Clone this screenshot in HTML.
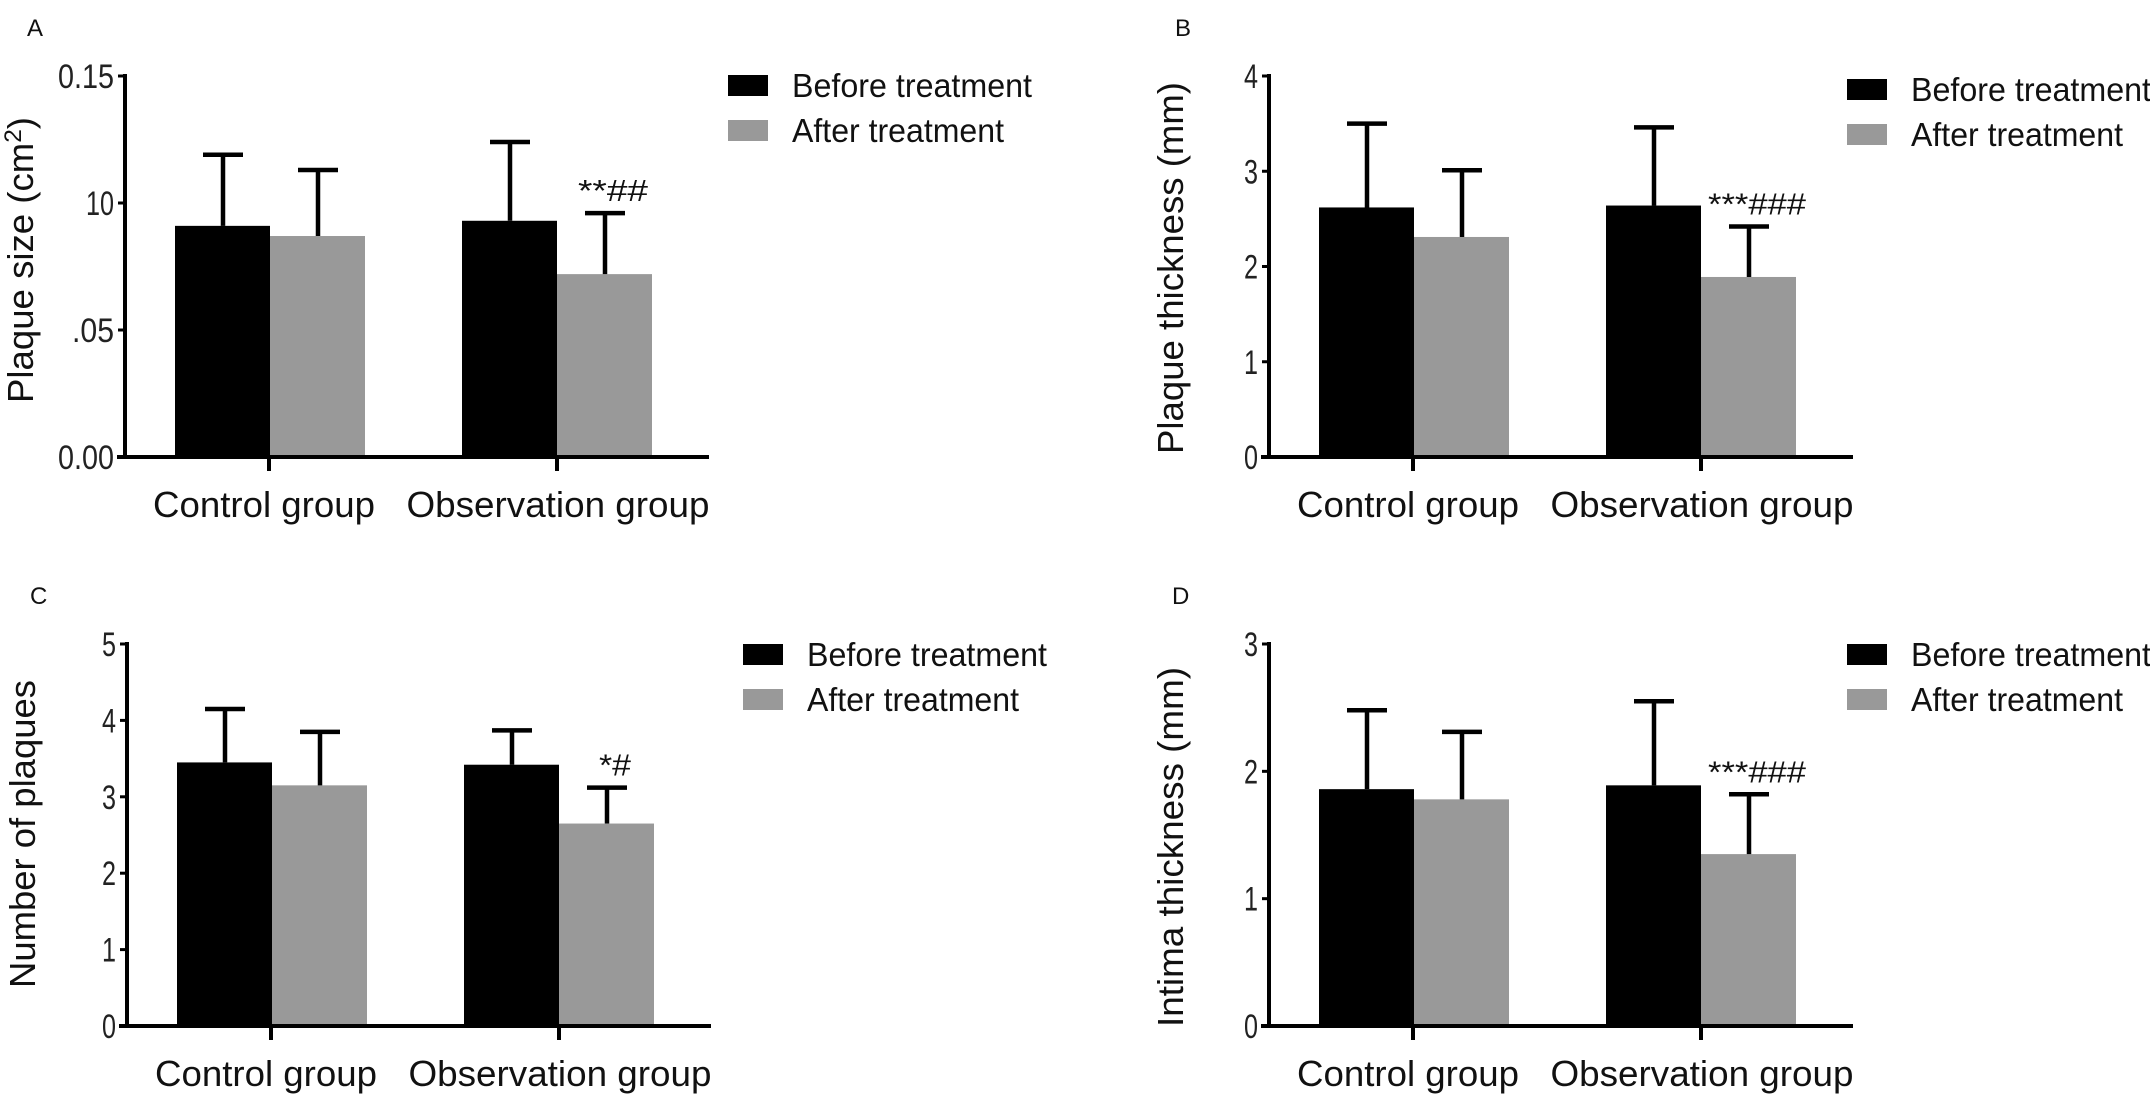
<!DOCTYPE html>
<html><head><meta charset="utf-8"><style>
html,body{margin:0;padding:0;background:#fff;}
svg{display:block;font-family:"Liberation Sans",Arial,sans-serif;}
</style></head><body>
<svg id="fig" width="2150" height="1100" viewBox="0 0 2150 1100"></svg>
<script>
const categories = ["Control group", "Observation group"];
const seriesNames = ["Before treatment", "After treatment"];
const aBefore = [0.091, 0.093], aAfter = [0.087, 0.072];
const aBeforeErr = [0.119, 0.124], aAfterErr = [0.113, 0.096];
const aTicks = [0, 0.05, 0.10, 0.15];
const aTickLabels = ["0.00", ".05", "10", "0.15"];
const bBefore = [2.62, 2.64], bAfter = [2.31, 1.89];
const bBeforeErr = [3.50, 3.46], bAfterErr = [3.01, 2.42];
const bTicks = [0, 1, 2, 3, 4];
const bTickLabels = ["0", "1", "2", "3", "4"];
const cBefore = [3.45, 3.42], cAfter = [3.15, 2.65];
const cBeforeErr = [4.15, 3.87], cAfterErr = [3.85, 3.12];
const cTicks = [0, 1, 2, 3, 4, 5];
const cTickLabels = ["0", "1", "2", "3", "4", "5"];
const dBefore = [1.86, 1.89], dAfter = [1.78, 1.35];
const dBeforeErr = [2.48, 2.55], dAfterErr = [2.31, 1.82];
const dTicks = [0, 1, 2, 3];
const dTickLabels = ["0", "1", "2", "3"];
const annotations = ["", "**##", "", "***###", "", "*#", "", "***###"];

const NS = "http://www.w3.org/2000/svg";
const svg = document.getElementById("fig");
function mk(tag, attrs, parent, text) {
  const e = document.createElementNS(NS, tag);
  for (const k in attrs) e.setAttribute(k, attrs[k]);
  if (text !== undefined) e.textContent = text;
  (parent || svg).appendChild(e);
  return e;
}

function panel(p) {
  const g = mk("g", {});
  
  
  const ymax = p.ticks[p.ticks.length - 1];
  const y = v => p.y0 - (v / ymax) * (p.y0 - p.yt);
  const ax = p.ax;
  const lt = mk("text", {x: p.lx, y: p.ly, "font-size": 24, fill: "#111"}, g, p.letter);
  
  
  const barOff = [[50, 337], [145, 432]];
  const vals = [p.before, p.after], errs = [p.beforeErr, p.afterErr];
  const cols = ["#000", "#999"];
  for (let gi = 0; gi < categories.length; gi++) {
    for (let s = 0; s < 2; s++) {
      const x = ax + barOff[s][gi];
      const r = mk("rect", {x: x, y: y(vals[s][gi]), width: 95, height: p.y0 - y(vals[s][gi]), fill: cols[s]}, g);
      
      
      const cx = x + 48;
      const e = mk("path", {d: `M${cx} ${y(vals[s][gi])}V${y(errs[s][gi])}M${cx-20} ${y(errs[s][gi])}H${cx+20}`, stroke: "#000", "stroke-width": 4.5, fill: "none"}, g);
      
      
    }
    const lab = mk("text", {x: ax + (gi ? 433 : 139), y: p.y0 + 60, "font-size": 36, fill: "#111", "text-anchor": "middle", textLength: gi ? 303 : 222, lengthAdjust: "spacingAndGlyphs"}, g, categories[gi]);
    
    
  }
  const an = mk("text", {x: ax + 488, y: y(p.afterErr[1]) - 12, "font-size": 31, fill: "#111", "text-anchor": "middle", textLength: p.annW, lengthAdjust: "spacingAndGlyphs"}, g, p.ann);
  
  
  const axes = mk("path", {d: `M${ax} ${p.yt-2}V${p.y0}M${ax-8} ${p.y0}H${ax+584}M${ax+144} ${p.y0}v14M${ax+432} ${p.y0}v14`, stroke: "#000", "stroke-width": 4, fill: "none"}, g);
  
  
  p.ticks.forEach((t, i) => {
    mk("path", {d: `M${ax-7} ${y(t)}H${ax}`, stroke: "#000", "stroke-width": 3}, g);
    const tl = mk("text", {x: ax - 11, y: y(t) + 12, "font-size": 34, "text-anchor": "end", fill: "#222", textLength: p.tickLabels[i].length * 14, lengthAdjust: "spacingAndGlyphs"}, g, p.tickLabels[i]);
    
    
  });
  const tx = ax - p.tdx;
  const yt = mk("text", {x: tx, y: p.tcy, "font-size": 36, fill: "#111", "text-anchor": "middle", textLength: p.tlen, lengthAdjust: "spacingAndGlyphs", transform: `rotate(-90 ${tx} ${p.tcy})`}, g);
  yt.innerHTML = p.title;
  
  
  seriesNames.forEach((n, i) => {
    const ly = p.legY + i * 45;
    const sw = mk("rect", {x: ax + p.legX, y: ly, width: 40, height: 21, fill: cols[i]}, g);
    
    
    const t = mk("text", {x: ax + p.legX + 64, y: ly + 22, "font-size": 33, fill: "#111", textLength: i ? 212 : 240, lengthAdjust: "spacingAndGlyphs"}, g, n);
    
    
  });
}

panel({letter: "A", lx: 27, ly: 36, ax: 125, yt: 76, y0: 457, ticks: aTicks, tickLabels: aTickLabels,
  before: aBefore, after: aAfter, beforeErr: aBeforeErr, afterErr: aAfterErr, ann: annotations[1], annW: 70,
  title: 'Plaque size (cm<tspan dy="-12" font-size="24">2</tspan><tspan dy="12">)</tspan>', tdx: 92, tcy: 260, tlen: 286, legX: 603, legY: 75});
panel({letter: "B", lx: 1175, ly: 36, ax: 1269, yt: 76, y0: 457, ticks: bTicks, tickLabels: bTickLabels,
  before: bBefore, after: bAfter, beforeErr: bBeforeErr, afterErr: bAfterErr, ann: annotations[3], annW: 98,
  title: 'Plaque thickness (mm)', tdx: 86, tcy: 268, tlen: 372, legX: 578, legY: 79});
panel({letter: "C", lx: 30, ly: 604, ax: 127, yt: 644, y0: 1026, ticks: cTicks, tickLabels: cTickLabels,
  before: cBefore, after: cAfter, beforeErr: cBeforeErr, afterErr: cAfterErr, ann: annotations[5], annW: 32,
  title: 'Number of plaques', tdx: 92, tcy: 834, tlen: 308, legX: 616, legY: 644});
panel({letter: "D", lx: 1172, ly: 604, ax: 1269, yt: 644, y0: 1026, ticks: dTicks, tickLabels: dTickLabels,
  before: dBefore, after: dAfter, beforeErr: dBeforeErr, afterErr: dAfterErr, ann: annotations[7], annW: 98,
  title: 'Intima thickness (mm)', tdx: 86, tcy: 847, tlen: 360, legX: 578, legY: 644});
</script>
</body></html>
